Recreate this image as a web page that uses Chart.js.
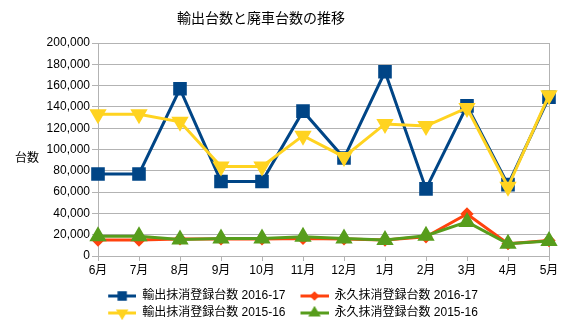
<!DOCTYPE html>
<html>
<head>
<meta charset="utf-8">
<script src="https://cdn.jsdelivr.net/npm/chart.js@4"></script>
<style>
  html, body { margin: 0; padding: 0; background: #fff; }
  #wrap { width: 576px; height: 325px; }
</style>
</head>
<body>
<div id="wrap"><canvas id="exportChart"></canvas></div>
<script>
const months = ['6月', '7月', '8月', '9月', '10月', '11月', '12月', '1月', '2月', '3月', '4月', '5月'];
const exportLabel1617 = '輸出抹消登録台数 2016-17';
const scrapLabel1617 = '永久抹消登録台数 2016-17';
const exportLabel1516 = '輸出抹消登録台数 2015-16';
const scrapLabel1516 = '永久抹消登録台数 2015-16';
const export1617 = [77000, 77000, 157000, 70000, 70000, 136000, 92000, 173000, 63000, 141000, 67000, 149000];
const scrap1617 = [15000, 15000, 16000, 16000, 16000, 16500, 16000, 15000, 18000, 39500, 11500, 14500];
const export1516 = [133000, 133000, 126000, 84000, 84000, 113000, 93000, 124000, 122000, 139000, 65000, 151000];
const scrap1516 = [18500, 18500, 15500, 16500, 16500, 18000, 16500, 15000, 19000, 32000, 11500, 14000];
const yTicks = [0, 20000, 40000, 60000, 80000, 100000, 120000, 140000, 160000, 180000, 200000];

const FONT = "'Liberation Sans', 'Noto Sans CJK JP', sans-serif";
const GRID = '#b3b3b3';

// legend swatch: short line with the marker in the middle (blank strip on the left)
function swatch(color, style, radius, rotation) {
  const c = document.createElement('canvas');
  c.width = 38;
  c.height = 14;
  const g = c.getContext('2d');
  g.strokeStyle = color;
  g.lineWidth = 3;
  g.beginPath();
  g.moveTo(10, 7);
  g.lineTo(38, 7);
  g.stroke();
  g.fillStyle = color;
  Chart.helpers.drawPoint(g, { pointStyle: style, radius: radius, rotation: rotation || 0, borderWidth: 1 }, 24, 7);
  g.fill();
  return c;
}

const sideText = {
  id: 'sideText',
  afterDraw(chart) {
    const ctx = chart.ctx;
    ctx.save();
    ctx.fillStyle = '#000';
    ctx.textAlign = 'center';
    ctx.textBaseline = 'middle';
    ctx.font = "14px 'Noto Sans CJK JP', sans-serif";
    ctx.fillText('輸出台数と廃車台数の推移', 261, 18);
    ctx.font = "12px 'Noto Sans CJK JP', sans-serif";
    ctx.fillText('台数', 27, 157);
    ctx.restore();
  }
};

const ctx = document.getElementById('exportChart').getContext('2d');

new Chart(ctx, {
  type: 'line',
  data: {
    labels: months,
    datasets: [
      {
        label: exportLabel1617,
        data: export1617,
        borderColor: '#004586',
        backgroundColor: '#004586',
        borderWidth: 3,
        pointStyle: 'rect',
        pointRadius: 7.5,
        pointHoverRadius: 7.5,
        order: 3,
      },
      {
        label: scrapLabel1617,
        data: scrap1617,
        borderColor: '#ff420e',
        backgroundColor: '#ff420e',
        borderWidth: 3,
        pointStyle: 'rectRot',
        pointRadius: 4.5,
        order: 2,
      },
      {
        label: exportLabel1516,
        data: export1516,
        borderColor: '#ffd320',
        backgroundColor: '#ffd320',
        borderWidth: 3,
        pointStyle: 'triangle',
        pointRotation: 180,
        pointRadius: 7,
        order: 1,
      },
      {
        label: scrapLabel1516,
        data: scrap1516,
        borderColor: '#579d1c',
        backgroundColor: '#579d1c',
        borderWidth: 3,
        pointStyle: 'triangle',
        pointRadius: 7,
        order: 0,
      },
    ],
  },
  options: {
    responsive: true,
    maintainAspectRatio: false,
    animation: false,
    layout: { padding: { top: 43, left: 0, right: 0, bottom: -4 } },
    scales: {
      x: {
        offset: false,
        afterFit: (s) => { s.height = 29; },
        grid: {
          color: (c) => (c.index === months.length - 1 ? GRID : 'rgba(0,0,0,0)'),
          tickColor: GRID,
          tickLength: 5,
        },
        border: { color: GRID },
        ticks: { color: '#000', font: { family: FONT, size: 12 }, padding: 2, maxRotation: 0, autoSkip: false },
      },
      y: {
        min: 0,
        max: 200000,
        afterFit: (s) => { s.width = 98; },
        afterBuildTicks: (s) => { s.ticks = yTicks.map((v) => ({ value: v })); },
        grid: { color: GRID, tickColor: GRID, tickLength: 6 },
        border: { color: GRID },
        ticks: {
          color: '#000',
          font: { family: FONT, size: 12 },
          padding: 2,
          callback: (v) => v.toLocaleString('en-US'),
        },
      },
      yRight: {
        position: 'right',
        min: 0,
        max: 1,
        afterFit: (s) => { s.width = 27; },
        grid: { display: false },
        border: { display: false },
        ticks: { display: false },
      },
    },
    plugins: {
      title: { display: false },
      tooltip: { enabled: false },
      legend: {
        position: 'bottom',
        labels: {
          color: '#000',
          font: { family: FONT, size: 12 },
          usePointStyle: true,
          pointStyleWidth: 38,
          padding: 5,
          generateLabels: (chart) => chart.data.datasets.map((ds, i) => ({
            text: ds.label,
            datasetIndex: i,
            fontColor: '#000',
            hidden: false,
            lineWidth: 0,
            pointStyle: swatch(ds.borderColor, ds.pointStyle, ds.pointRadius * 0.6, ds.pointRotation),
          })),
        },
      },
    },
  },
  plugins: [sideText],
});
</script>
</body>
</html>
